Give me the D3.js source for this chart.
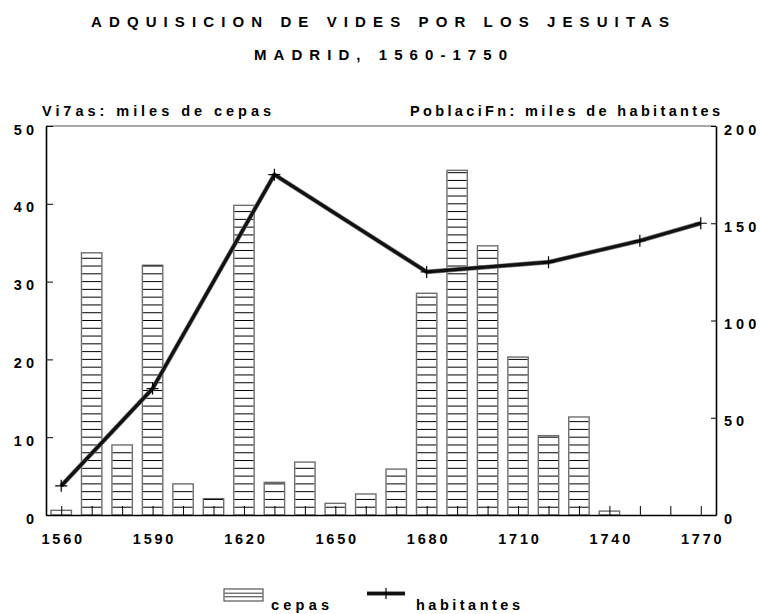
<!DOCTYPE html>
<html>
<head>
<meta charset="utf-8">
<script src="https://cdn.jsdelivr.net/npm/d3@7"></script>
<style>
  html, body { margin: 0; padding: 0; background: #fff; }
  text { font-family: "Liberation Sans", Arial, sans-serif; font-weight: bold; fill: #000; }
</style>
</head>
<body>
<svg id="chart" width="761" height="614"></svg>
<script>
// ---- data ----
const years = [1560,1570,1580,1590,1600,1610,1620,1630,1640,1650,1660,1670,1680,1690,1700,1710,1720,1730,1740,1750,1760,1770];
const cepas = [0.6,33.7,9.0,32.1,4.0,2.1,39.8,4.2,6.8,1.5,2.7,5.9,28.5,44.3,34.6,20.3,10.2,12.6,0.5,0,0,0];
const popYears = [1560,1590,1630,1680,1720,1750,1770];
const habitantes = [15,65,175,125,130,141,150];
const xTickLabels = [1560,1590,1620,1650,1680,1710,1740,1770];
const leftTicks = [0,10,20,30,40,50];
const rightTicks = [0,50,100,150,200];
const title1 = "ADQUISICION DE VIDES POR LOS JESUITAS";
const title2 = "MADRID, 1560-1750";
const leftLabel = "Vi7as: miles de cepas";
const rightLabel = "PoblaciFn: miles de habitantes";
const legendLabels = ["cepas", "habitantes"];

// ---- layout ----
const L = 46, R = 716, T = 126, B = 515;
const svg = d3.select("#chart");

const x = d3.scalePoint().domain(years).range([L, R]).padding(0.5);
const yL = d3.scaleLinear().domain([0, 50]).range([B, T]);
const yR = d3.scaleLinear().domain([0, 200]).range([B, T]);
const barW = x.step() * 0.67;

function spaced(sel, txt, x0, base, len, size) {
  sel.append("text").attr("x", x0).attr("y", base)
    .attr("font-size", size)
    .attr("textLength", len).attr("lengthAdjust", "spacing")
    .text(txt);
}
spaced(svg, title1, 91, 27, 578, 15);
spaced(svg, title2, 254, 60, 253, 15);
spaced(svg, leftLabel, 42, 116, 229, 14.5);
spaced(svg, rightLabel, 410, 116, 310, 14.5);

// top frame line
svg.append("line").attr("x1", L).attr("x2", R).attr("y1", T).attr("y2", T)
  .attr("stroke", "#555").attr("stroke-width", 1.2);

// bars
const barData = years.map((yr, i) => ({ yr, v: cepas[i] })).filter(d => d.v > 0);
const bars = svg.append("g");
bars.selectAll("rect").data(barData).join("rect")
  .attr("x", d => x(d.yr) - barW / 2)
  .attr("y", d => yL(d.v))
  .attr("width", barW)
  .attr("height", d => B - yL(d.v))
  .attr("fill", "#fff")
  .attr("stroke", "#6e6e6e")
  .attr("stroke-width", 1.4);
const hatch = [];
barData.forEach(d => {
  for (let v = 1; v < d.v; v++) hatch.push({ yr: d.yr, v });
});
bars.selectAll("line.h").data(hatch).join("line").attr("class", "h")
  .attr("x1", d => x(d.yr) - barW / 2 + 0.7)
  .attr("x2", d => x(d.yr) + barW / 2 - 0.7)
  .attr("y1", d => yL(d.v)).attr("y2", d => yL(d.v))
  .attr("stroke", "#000").attr("stroke-width", 1);

// axes
const axL = svg.append("g").attr("transform", `translate(${L},0)`)
  .call(d3.axisLeft(yL).tickValues(leftTicks).tickSize(-7).tickSizeOuter(0).tickPadding(8));
const axR = svg.append("g").attr("transform", `translate(${R},0)`)
  .call(d3.axisRight(yR).tickValues(rightTicks).tickSize(-5).tickSizeOuter(0).tickPadding(8));
const axB = svg.append("g").attr("transform", `translate(0,${B})`)
  .call(d3.axisBottom(x).tickSize(-9).tickSizeOuter(0).tickPadding(19)
    .tickFormat(d => xTickLabels.includes(d) ? d : ""));

[axL, axR, axB].forEach(a => {
  a.selectAll(".domain").attr("stroke", "#000").attr("stroke-width", 1.6);
  a.selectAll(".tick line").attr("stroke", "#000").attr("stroke-width", 1);
  a.selectAll("text").attr("font-family", "Liberation Sans, Arial, sans-serif")
    .attr("font-weight", "bold").attr("fill", "#000");
});
axL.selectAll("text").attr("font-size", 14.5).attr("letter-spacing", 4).attr("dy", "0.56em");
axR.selectAll("text").attr("font-size", 14.5).attr("letter-spacing", 4).attr("dy", "0.56em");
axB.selectAll("text").attr("font-size", 14.5).attr("letter-spacing", 2.8).attr("dx", 1.4);

// population line
const popData = popYears.map((yr, i) => ({ yr, v: habitantes[i] }));
const line = d3.line().x(d => x(d.yr)).y(d => yR(d.v));
svg.append("path").datum(popData)
  .attr("d", line).attr("fill", "none")
  .attr("stroke", "#777").attr("stroke-width", 4.6).attr("stroke-linejoin", "round");
svg.append("path").datum(popData)
  .attr("d", line).attr("fill", "none")
  .attr("stroke", "#111").attr("stroke-width", 3.2).attr("stroke-linejoin", "round");
const cross = svg.append("g");
cross.selectAll("path").data(popData).join("path")
  .attr("d", d => {
    const cx = x(d.yr), cy = yR(d.v);
    return `M${cx - 6},${cy}H${cx + 6}M${cx},${cy - 6}V${cy + 6}`;
  })
  .attr("stroke", "#000").attr("stroke-width", 1.2).attr("fill", "none");

// legend
const lg = svg.append("g");
lg.append("rect").attr("x", 224).attr("y", 589).attr("width", 39).attr("height", 12)
  .attr("fill", "#fff").attr("stroke", "#555").attr("stroke-width", 1.2);
[593.2, 596.8].forEach(yy => lg.append("line").attr("x1", 224.6).attr("x2", 262.4)
  .attr("y1", yy).attr("y2", yy).attr("stroke", "#333").attr("stroke-width", 1));
spaced(lg, legendLabels[0], 271, 609.5, 58, 14.5);
lg.append("line").attr("x1", 367).attr("x2", 405).attr("y1", 593.5).attr("y2", 593.5)
  .attr("stroke", "#777").attr("stroke-width", 4.6);
lg.append("line").attr("x1", 367).attr("x2", 405).attr("y1", 593.5).attr("y2", 593.5)
  .attr("stroke", "#111").attr("stroke-width", 3.2);
lg.append("path").attr("d", "M386,588V599").attr("stroke", "#000").attr("stroke-width", 1.2);
spaced(lg, legendLabels[1], 416, 609.5, 104, 14.5);
</script>
</body>
</html>
